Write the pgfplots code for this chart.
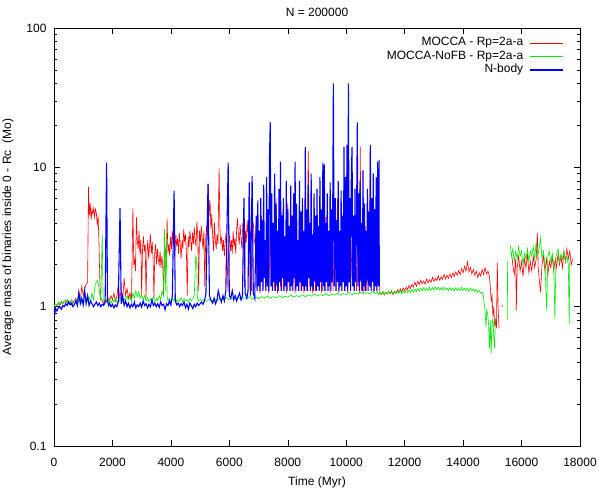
\documentclass[border=0pt]{standalone}
\usepackage{pgfplots}
\pgfplotsset{compat=1.18}
\usepackage{fontspec}
\setmainfont{Liberation Sans}
\definecolor{gred}{RGB}{255,0,0}
\definecolor{ggreen}{RGB}{0,235,0}
\definecolor{gblue}{RGB}{0,0,255}
\begin{document}
\begin{tikzpicture}[font=\fontsize{12}{14}\selectfont]
\useasboundingbox (-54pt,-45pt) rectangle (545pt,446pt);
\begin{axis}[
  at={(0,0)}, anchor=south west,
  scale only axis, width=526pt, height=418pt,
  xmin=0, xmax=18000, ymin=0.1, ymax=100, ymode=log,
  xtick={0,2000,...,18000},
  xticklabels={0,2000,4000,6000,8000,10000,12000,14000,16000,18000},
  ytick={0.1,1,10,100}, yticklabels={0.1,1,10,100},
  minor ytick={0.2,0.3,0.4,0.5,0.6,0.7,0.8,0.9,2,3,4,5,6,7,8,9,20,30,40,50,60,70,80,90},
  minor xtick={},
  tick align=inside,
  major tick length=6pt, minor tick length=3pt,
  every tick/.style={black, line width=0.5pt},
  axis line style={line width=0.8pt},
  xticklabel style={anchor=base, yshift=-20pt},
  yticklabel style={anchor=east, xshift=-4pt},
  title={N = 200000},
  title style={at={(axis description cs:0.5,1)}, anchor=base, yshift=5pt},
  xlabel={Time (Myr)},
  xlabel style={at={(axis description cs:0.5,0)}, anchor=base, yshift=-39pt},
  ylabel={Average mass of binaries inside 0 - Rc\ \ (Mo)},
  ylabel style={at={(axis description cs:-0.0817,0.5)}, anchor=base},
  unbounded coords=jump,
  legend plot pos=right,
  legend cell align=right,
  legend image code/.code={\draw[#1] (0pt,0pt) -- (33pt,0pt);},
  legend style={draw=none, fill=none, at={(1,1)}, anchor=north east,
    xshift=-13pt, yshift=-6pt, column sep=5pt, row sep=0pt,
    nodes={inner sep=1.5pt, text height=8pt, text depth=2.5pt}},
]
% MOCCA (red)
\addplot[gred, line width=0.6pt] coordinates {
(0,1.00) (50,0.98) (100,1.03) (150,1.05) (200,1.02) (250,1.08) (300,1.05) (350,1.10) (400,1.06) (450,1.12)
(500,1.05) (550,1.10) (600,1.03) (650,1.08) (700,1.10) (750,1.15) (800,1.05) (850,1.30) (900,1.10) (950,1.40)
(1000,1.20) (1050,1.35) (1100,1.45) (1150,1.50) (1180,7.2) (1210,4.5) (1240,5.5) (1270,4.2) (1300,5.0) (1330,4.6)
(1360,5.1) (1390,4.4) (1420,5.0) (1450,4.7) (1480,3.8) (1510,4.5) (1540,2.8) (1570,1.5) (1600,1.15) (1650,1.10)
(1700,1.05) (1750,1.12) (1800,1.08) (1850,1.15) (1900,1.10) (1950,1.20) (2000,1.12) (2050,1.25) (2100,1.10) (2150,1.18)
(2200,1.45) (2250,1.15) (2300,1.30) (2350,1.12) (2400,1.60) (2450,1.20) (2500,1.35) (2550,1.15) (2600,1.25) (2650,1.10)
(2700,5.1) (2730,2.0) (2760,2.2) (2790,1.8) (2820,4.4) (2850,3.0) (2880,2.6) (2910,3.5) (2940,2.4) (2970,3.0)
(3000,1.2) (3030,2.6) (3060,3.2) (3090,2.5) (3120,2.8) (3150,1.15) (3180,2.4) (3210,3.0) (3240,2.2) (3270,2.7)
(3300,3.3) (3330,2.4) (3360,2.9) (3390,2.2) (3420,1.15) (3450,2.5) (3480,2.8) (3510,2.0) (3540,2.6) (3570,2.2)
(3600,2.0) (3630,2.5) (3660,1.9) (3690,2.3) (3720,2.0) (3750,1.2) (3780,2.2) (3810,2.6) (3840,2.0) (3870,4.3)
(3900,2.4) (3930,2.8) (3960,2.3) (3990,3.2) (4020,2.6) (4050,3.5) (4080,2.8) (4110,3.0) (4140,2.5) (4170,3.3)
(4200,2.7) (4230,3.1) (4260,2.4) (4290,3.4) (4320,2.8) (4350,2.2) (4380,3.0) (4410,2.6) (4440,3.6) (4470,2.9)
(4500,3.3) (4530,2.5) (4560,1.2) (4590,3.2) (4620,2.7) (4650,3.5) (4680,3.0) (4710,2.5) (4740,3.4) (4770,2.8)
(4800,3.7) (4830,3.0) (4860,2.7) (4890,4.1) (4920,3.2) (4950,1.3) (4980,3.5) (5010,2.9) (5040,3.8) (5070,3.1)
(5100,2.6) (5130,3.5) (5160,1.4) (5190,3.0) (5220,3.8) (5250,3.2) (5280,7.6) (5310,4.5) (5340,5.8) (5370,3.6)
(5400,4.6) (5430,3.2) (5460,2.5) (5490,4.0) (5520,3.0) (5550,2.6) (5580,3.3) (5610,2.8) (5650,9.9) (5680,3.5)
(5710,2.8) (5740,3.2) (5770,2.5) (5800,3.0) (5830,2.3) (5860,2.9) (5890,3.4) (5920,2.6) (5950,1.3) (5980,2.8)
(6010,3.3) (6040,2.5) (6070,3.0) (6100,2.4) (6130,3.5) (6160,2.7) (6190,3.1) (6220,2.4) (6250,3.6) (6280,4.3)
(6310,3.2) (6340,2.8) (6370,3.9) (6400,3.1) (6430,2.6) (6460,4.0) (6490,3.3) (6520,1.4) (6550,3.5) (6580,2.9)
(6610,4.2) (6640,3.2) (6670,2.7) (6700,3.8) (6730,3.0) (6760,1.3) (6790,3.6) (6820,4.0) (6850,3.1) (6880,2.8)
(6910,3.5) (6950,1.3) (7000,3.5) (7050,1.25) (7100,4.5) (7150,1.4) (7200,3.0) (7250,1.3) (7300,5.0) (7350,1.25)
(7400,3.2) (7450,1.4) (7500,4.0) (7550,1.3) (7600,6.0) (7650,1.25) (7700,3.5) (7750,1.4) (7800,4.8) (7850,1.3)
(7900,2.8) (7950,1.25) (8000,5.5) (8050,1.4) (8100,3.6) (8150,1.3) (8200,4.2) (8250,1.25) (8300,3.0) (8350,1.4)
(8400,5.2) (8450,1.3) (8500,3.8) (8550,1.25) (8600,4.5) (8650,1.3) (8700,13.0) (8750,1.4) (8800,3.4) (8850,1.25)
(8900,4.6) (8950,1.3) (9000,3.0) (9050,1.4) (9100,5.5) (9150,1.25) (9200,3.6) (9250,1.3) (9300,4.4) (9350,1.4)
(9400,2.9) (9450,1.25) (9500,5.0) (9550,1.3) (9600,3.5) (9650,1.4) (9700,6.0) (9750,1.25) (9800,3.2) (9850,1.3)
(9900,4.8) (9950,1.4) (10000,3.6) (10050,1.25) (10100,5.0) (10150,1.3) (10200,3.0) (10250,1.4) (10300,4.2) (10350,1.3)
(10400,3.4) (10450,1.25) (10480,14.0) (10520,1.3) (10560,4.9) (10600,1.25) (10650,3.8) (10700,1.3) (10750,5.0) (10800,1.4)
(10820,14.0) (10860,1.3) (10900,4.5) (10950,1.25) (11000,5.0) (11050,1.3) (11100,4.5) (11150,1.25)
(11200,1.22) (11250,1.28) (11300,1.21) (11350,1.27) (11400,1.23) (11450,1.29) (11500,1.24) (11550,1.30) (11600,1.22) (11650,1.28)
(11700,1.25) (11750,1.32) (11800,1.26) (11850,1.34) (11900,1.28) (11950,1.36) (12000,1.30) (12050,1.38) (12100,1.32) (12150,1.42)
(12200,1.35) (12250,1.45) (12300,1.38) (12350,1.50) (12400,1.40) (12450,1.52) (12500,1.44) (12550,1.55) (12600,1.46) (12650,1.53)
(12700,1.45) (12750,1.58) (12800,1.48) (12850,1.56) (12900,1.50) (12950,1.62) (13000,1.52) (13050,1.60) (13100,1.54) (13150,1.66)
(13200,1.55) (13250,1.64) (13300,1.57) (13350,1.70) (13400,1.58) (13450,1.68) (13500,1.60) (13550,1.72) (13600,1.62) (13650,1.75)
(13700,1.65) (13750,1.78) (13800,1.68) (13850,1.82) (13900,1.70) (13950,1.88) (14000,1.75) (14050,1.95) (14100,1.80) (14150,2.10)
(14200,1.78) (14250,1.92) (14300,1.72) (14350,1.85) (14400,1.68) (14450,1.80) (14500,1.62) (14550,1.75) (14600,1.66) (14650,1.85)
(14700,1.70) (14750,1.90) (14800,1.72) (14850,1.80) (14900,1.65) (14930,1.40) (14960,1.10) (14990,1.20) (15020,0.85) (15050,1.00)
(15080,0.72) (15110,0.80) (15140,0.70) (15170,2.07) (15200,0.95) (15230,0.70) (15260,nan) (15330,1.00) (15350,1.02) (15360,nan)
(15660,2.4) (15700,2.0) (15750,1.7) (15800,2.2) (15820,0.94) (15850,1.9) (15900,2.3) (15950,1.8) (16000,2.1) (16050,1.65)
(16100,2.2) (16150,1.9) (16200,2.4) (16250,1.75) (16300,2.1) (16350,1.8) (16400,2.3) (16450,1.9) (16500,2.2) (16540,3.4)
(16570,1.9) (16600,1.6) (16650,1.27) (16700,2.0) (16750,2.3) (16800,1.8) (16850,2.2) (16900,1.7) (16950,2.1) (17000,1.9)
(17050,2.3) (17100,1.8) (17150,2.2) (17200,1.9) (17250,2.4) (17300,2.0) (17350,2.3) (17400,1.9) (17450,2.5) (17500,2.1)
(17550,2.6) (17600,2.2) (17650,2.5) (17700,2.0) (17750,2.2)
};
\addlegendentry{MOCCA - Rp=2a-a}
% MOCCA-NoFB (green)
\addplot[ggreen, line width=0.6pt] coordinates {
(0,1.00) (50,1.05) (100,1.02) (150,1.08) (200,1.04) (250,1.10) (300,1.05) (350,1.08) (400,1.12) (450,1.06)
(500,1.10) (550,1.05) (600,1.12) (650,1.08) (700,1.04) (750,1.10) (800,1.15) (850,1.08) (900,1.20) (950,1.05)
(1000,1.12) (1050,1.08) (1100,1.15) (1150,1.10) (1200,1.18) (1250,1.08) (1300,1.25) (1350,1.12) (1400,1.40) (1450,1.50)
(1500,1.55) (1550,1.30) (1600,1.10) (1650,3.3) (1680,1.15) (1700,1.10) (1750,1.06) (1800,1.12) (1850,1.08) (1900,1.14)
(1950,1.06) (2000,1.12) (2050,1.08) (2100,1.15) (2150,1.07) (2200,1.12) (2250,1.10) (2300,1.18) (2350,1.08) (2400,1.14)
(2450,1.10) (2500,1.20) (2550,1.12) (2600,1.18) (2650,1.10) (2700,1.25) (2750,1.15) (2800,1.30) (2850,1.18) (2900,1.28)
(2950,1.15) (3000,1.22) (3050,1.12) (3100,1.20) (3150,1.10) (3200,1.16) (3250,1.08) (3300,1.14) (3350,1.10) (3400,1.18)
(3450,1.08) (3500,1.15) (3550,1.10) (3600,1.20) (3650,1.12) (3700,1.30) (3740,1.20) (3780,3.6) (3810,1.30) (3840,3.2)
(3870,1.20) (3900,1.10) (3950,1.15) (4000,1.08) (4050,1.14) (4100,1.10) (4150,1.18) (4200,1.08) (4250,1.12) (4300,1.10)
(4350,1.16) (4400,1.08) (4450,1.14) (4500,1.10) (4550,1.12) (4600,1.08) (4650,1.15) (4700,1.10) (4750,1.14) (4800,1.20)
(4850,2.3) (4880,2.2) (4910,1.15) (4950,1.10) (5000,1.13) (5050,1.09) (5100,1.12) (5200,1.09) (5300,1.13) (5400,1.10)
(5500,1.14) (5600,1.11) (5700,1.15) (5800,1.12) (5900,1.16) (6000,1.12) (6100,1.15) (6200,1.13) (6300,1.17) (6400,1.12)
(6500,1.16) (6600,1.14) (6700,1.18) (6800,1.13) (6900,1.17) (7000,1.14) (7100,1.18) (7200,1.15) (7300,1.19) (7400,1.15)
(7500,1.18) (7600,1.16) (7700,1.20) (7800,1.16) (7900,1.19) (8000,1.17) (8100,1.21) (8200,1.17) (8300,1.20) (8400,1.18)
(8500,1.22) (8600,1.18) (8700,1.21) (8800,1.19) (8900,1.23) (9000,1.19) (9100,1.22) (9200,1.20) (9300,1.24) (9400,1.20)
(9500,1.23) (9600,1.21) (9700,1.25) (9800,1.21) (9900,1.24) (10000,1.22) (10100,1.26) (10200,1.22) (10300,1.25) (10400,1.23)
(10500,1.27) (10600,1.23) (10700,1.26) (10800,1.24) (10900,1.28) (11000,1.24)
(11050,1.28) (11100,1.22) (11150,1.27) (11200,1.23) (11250,1.29) (11300,1.22) (11350,1.27) (11400,1.24) (11450,1.29) (11500,1.23)
(11550,1.28) (11600,1.24) (11650,1.30) (11700,1.24) (11750,1.28) (11800,1.25) (11850,1.31) (11900,1.24) (11950,1.29) (12000,1.25)
(12050,1.31) (12100,1.26) (12150,1.32) (12200,1.27) (12250,1.33) (12300,1.27) (12350,1.34) (12400,1.28) (12450,1.35) (12500,1.29)
(12550,1.36) (12600,1.30) (12650,1.37) (12700,1.30) (12750,1.36) (12800,1.31) (12850,1.38) (12900,1.31) (12950,1.37) (13000,1.32)
(13050,1.39) (13100,1.33) (13150,1.38) (13200,1.32) (13250,1.37) (13300,1.31) (13350,1.38) (13400,1.32) (13450,1.36) (13500,1.30)
(13550,1.37) (13600,1.31) (13650,1.36) (13700,1.30) (13750,1.37) (13800,1.31) (13850,1.36) (13900,1.30) (13950,1.38) (14000,1.31)
(14050,1.36) (14100,1.30) (14150,1.35) (14200,1.29) (14250,1.36) (14300,1.30) (14350,1.34) (14400,1.28) (14450,1.33) (14500,1.27)
(14550,1.31) (14600,1.25) (14650,1.27) (14700,1.18) (14720,1.05) (14750,0.95) (14780,0.71) (14810,0.95) (14840,0.89) (14870,0.75)
(14900,0.50) (14930,0.80) (14960,0.46) (14990,0.75) (15020,0.83) (15050,0.60) (15080,0.50) (15100,0.80) (15120,nan)
(15515,2.14) (15525,0.80) (15530,nan)
(15620,2.74) (15650,2.3) (15700,2.6) (15750,2.1) (15800,2.5) (15850,2.2) (15900,2.7) (15950,2.3) (16000,2.5) (16050,2.0)
(16100,2.4) (16150,2.2) (16200,2.6) (16250,2.1) (16300,2.5) (16350,2.3) (16400,2.7) (16450,2.2) (16500,2.9) (16550,2.3)
(16600,2.6) (16650,3.1) (16700,2.2) (16750,2.5) (16800,2.0) (16860,0.94) (16900,2.3) (16950,2.5) (17000,2.1) (17050,2.4)
(17100,2.0) (17140,0.82) (17180,2.3) (17250,2.6) (17300,2.1) (17350,2.4) (17400,2.2) (17450,2.5) (17500,2.1) (17550,2.3)
(17600,2.0) (17630,0.75) (17650,2.1)
};
\addlegendentry{MOCCA-NoFB - Rp=2a-a}
% N-body (blue)
\addplot[gblue, line width=1.1pt] coordinates {
(0,0.95) (30,0.90) (60,0.97) (100,0.93) (150,0.98) (200,1.00) (250,0.96) (300,1.02) (350,1.00) (400,1.05)
(450,1.02) (500,1.08) (550,1.03) (600,1.06) (650,1.00) (700,1.04) (750,1.10) (800,1.02) (850,1.25) (900,1.05)
(950,1.15) (1000,1.03) (1050,1.30) (1100,1.05) (1150,1.20) (1200,1.02) (1250,1.10) (1300,1.05) (1350,1.00) (1400,1.04)
(1450,1.08) (1500,1.02) (1550,1.06) (1600,1.00) (1650,1.04) (1700,1.02) (1750,1.08) (1800,10.8) (1830,1.10) (1870,1.02)
(1900,1.06) (1950,1.00) (2000,1.04) (2050,0.98) (2100,1.03) (2150,1.00) (2200,1.08) (2260,5.1) (2300,1.05) (2350,1.20)
(2400,1.02) (2450,1.10) (2500,1.00) (2550,1.06) (2600,0.98) (2650,1.04) (2700,1.00) (2750,1.08) (2800,0.98) (2850,1.03)
(2900,1.00) (2950,1.06) (3000,0.99) (3050,1.10) (3100,1.02) (3150,1.05) (3200,0.98) (3250,1.04) (3300,1.00) (3350,1.12)
(3400,1.02) (3450,1.06) (3500,1.00) (3550,1.05) (3600,0.99) (3650,1.08) (3700,1.02) (3750,1.04) (3800,0.95) (3850,1.05)
(3900,1.02) (3950,1.10) (4000,1.03) (4050,1.20) (4110,6.8) (4150,1.10) (4200,1.03) (4250,1.06) (4300,1.00) (4350,1.05)
(4400,1.02) (4450,1.08) (4500,0.98) (4550,1.04) (4600,0.96) (4650,1.06) (4700,1.02) (4750,0.97) (4800,1.04) (4850,1.00)
(4900,1.06) (4950,1.02) (5000,1.05) (5050,1.08) (5100,1.04) (5150,1.10) (5200,1.25) (5270,7.6) (5320,1.20) (5380,1.10)
(5430,1.06) (5480,1.15) (5530,1.05) (5580,1.12) (5620,1.30) (5680,1.15) (5730,1.08) (5780,1.20) (5830,1.10) (5880,1.30)
(5960,10.8) (6000,1.20) (6050,1.15) (6100,1.30) (6150,1.12) (6200,1.20) (6250,1.10) (6300,1.18) (6350,1.25) (6400,1.12)
(6450,1.20) (6500,6.0) (6540,1.25) (6600,1.15) (6640,1.30) (6680,7.8) (6720,1.20) (6780,8.7) (6820,1.25) (6870,1.15)
(6920,4.5) (6950,1.3) (6975,5.8) (7000,1.4) (7025,3.5) (7050,1.3) (7075,6.0) (7100,1.5) (7125,4.2) (7150,1.3)
(7175,7.5) (7200,1.6) (7225,3.0) (7250,1.3) (7275,8.5) (7300,1.4) (7325,5.0) (7350,1.3) (7375,12.0) (7400,21.0)
(7425,1.4) (7450,6.5) (7475,1.3) (7500,4.0) (7525,1.5) (7550,9.0) (7575,1.3) (7600,5.5) (7625,1.4) (7650,3.5)
(7675,1.3) (7700,7.0) (7725,1.5) (7750,11.0) (7775,1.3) (7800,4.5) (7825,1.6) (7850,6.0) (7875,1.3) (7900,3.2)
(7925,1.4) (7950,8.0) (7975,1.3) (8000,5.0) (8025,1.5) (8050,3.8) (8075,1.3) (8100,7.4) (8125,1.4) (8150,4.5)
(8175,1.3) (8200,6.5) (8225,1.6) (8250,11.0) (8275,1.3) (8300,5.5) (8325,1.4) (8350,3.0) (8375,1.3) (8400,8.0)
(8425,1.5) (8450,4.8) (8475,1.3) (8500,6.0) (8525,1.4) (8550,3.5) (8575,1.3) (8600,14.0) (8625,1.4) (8650,5.0)
(8675,1.3) (8700,7.5) (8725,1.6) (8750,4.0) (8775,1.3) (8800,9.0) (8825,1.4) (8850,3.3) (8875,1.3) (8900,6.5)
(8925,1.5) (8950,4.5) (8975,1.3) (9000,7.0) (9025,1.4) (9050,3.8) (9075,1.3) (9100,8.5) (9125,1.5) (9150,5.0)
(9175,1.3) (9200,10.8) (9225,1.4) (9250,10.5) (9275,1.3) (9300,4.0) (9325,1.5) (9350,6.5) (9375,1.3) (9400,3.5)
(9425,1.4) (9450,7.8) (9475,1.3) (9500,5.0) (9525,1.5) (9560,40.0) (9590,1.4) (9625,6.0) (9650,1.3) (9675,4.2)
(9700,1.5) (9725,8.0) (9750,1.3) (9775,3.5) (9800,1.4) (9825,6.8) (9850,1.3) (9875,4.5) (9900,1.5) (9925,14.0)
(9950,1.3) (9975,8.5) (10000,1.4) (10025,14.5) (10050,1.3) (10075,40.0) (10100,1.5) (10125,6.0) (10150,1.3) (10175,9.0)
(10200,14.0) (10225,1.4) (10250,4.5) (10275,1.3) (10300,7.0) (10325,1.5) (10350,3.8) (10380,21.0) (10400,1.4) (10425,6.5)
(10450,1.3) (10475,8.0) (10500,1.5) (10525,4.0) (10550,1.3) (10575,9.5) (10600,1.4) (10625,5.5) (10650,1.3) (10675,3.5)
(10700,1.5) (10725,7.0) (10750,1.3) (10775,4.8) (10800,1.4) (10825,14.5) (10850,1.3) (10875,6.0) (10900,1.5) (10925,9.0)
(10950,1.3) (10975,5.0) (11000,1.4) (11025,8.5) (11050,1.3) (11075,11.0) (11100,1.4) (11125,11.3) (11130,1.4)
};
\addlegendentry{N-body}
\end{axis}
\end{tikzpicture}
\end{document}
